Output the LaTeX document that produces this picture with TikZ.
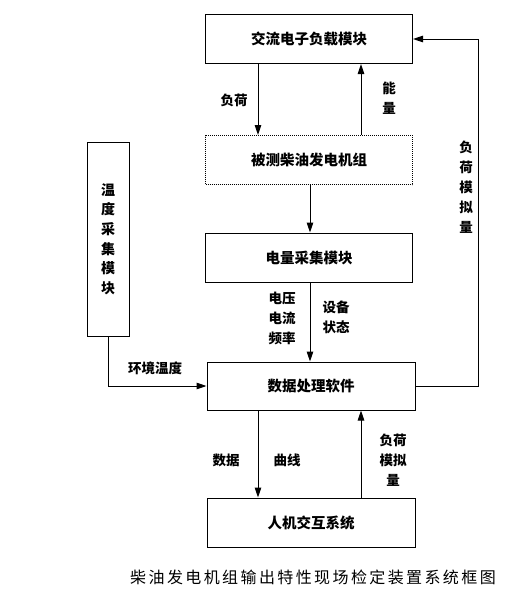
\documentclass[tikz,border=0pt]{standalone}
\usepackage{fontspec}
\newfontfamily\cjk{Noto Sans CJK SC}
\usetikzlibrary{arrows.meta,calc}
\begin{document}
\begin{tikzpicture}[x=1pt,y=-1pt,
  box/.style={draw,line width=1pt,minimum width=207pt,minimum height=49pt,inner sep=0pt,font=\cjk\bfseries\fontsize{14.5}{16}\selectfont},
  lbl/.style={inner sep=0pt,align=center,font=\cjk\bfseries\fontsize{13.5}{20}\selectfont},
  arr/.style={line width=1pt,-{Triangle[length=10pt,width=6.5pt]}},
  ln/.style={line width=1pt}]
\useasboundingbox (0,0) rectangle (531,600);
\node[box] (ac) at (309,39) {交流电子负载模块};
\node[box,densely dotted] (gen) at (309,160) {被测柴油发电机组};
\node[box] (meas) at (309,257.5) {电量采集模块};
\node[box,minimum width=208pt,minimum height=48pt] (data) at (311,386) {数据处理软件};
\node[box,minimum width=208pt] (hmi) at (311,522.5) {人机交互系统};
\node[box,minimum width=42pt,minimum height=194pt,align=center,font=\cjk\bfseries\fontsize{14}{19.6}\selectfont] (temp) at (108,239) {温\\度\\采\\集\\模\\块};
\coordinate (xl) at (258,0);
\coordinate (xm) at (361,0);
\coordinate (xc) at (310,0);
\coordinate (xr) at (478,0);
\draw[arr] (ac.south -| xl) -- (gen.north -| xl);
\draw[arr] (gen.north -| xm) -- (ac.south -| xm);
\draw[arr] (gen.south -| xc) -- (meas.north -| xc);
\draw[arr] (meas.south -| xc) -- (data.north -| xc);
\draw[arr] (data.south -| xl) -- (hmi.north -| xl);
\draw[arr] (hmi.north -| xm) -- (data.south -| xm);
\draw[arr] (data.east) -- (data.east -| xr) |- (ac.east);
\draw[arr] (temp.south) |- (data.west);
\node[lbl] (l1) at (234,100) {负荷};
\node[lbl] (l2) at (389,98) {能\\量};
\node[lbl] (l3) at (466,187) {负\\荷\\模\\拟\\量};
\node[lbl] (l4) at (282,318) {电压\\电流\\频率};
\node[lbl] (l5) at (336,317) {设备\\状态};
\node[lbl] (l6) at (155,368) {环境温度};
\node[lbl] (l7) at (226,460) {数据};
\node[lbl] (l8) at (287,460) {曲线};
\node[lbl] (l9) at (393,460) {负荷\\模拟\\量};
\node[inner sep=0pt,font=\cjk\fontsize{16}{18}\selectfont\addfontfeatures{LetterSpace=15}] (cap) at (313,577) {柴油发电机组输出特性现场检定装置系统框图};
\end{tikzpicture}
\end{document}
